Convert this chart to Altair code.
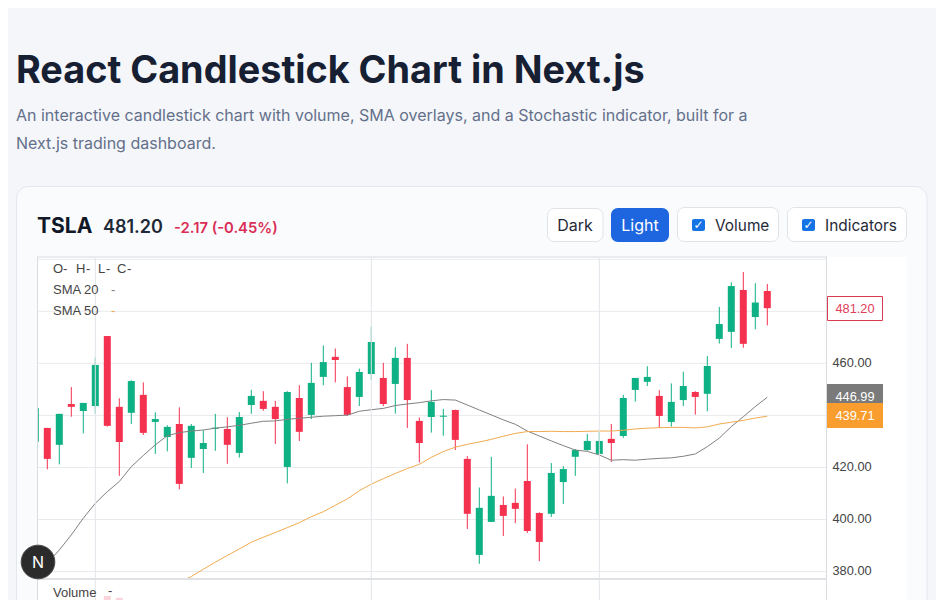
import altair as alt
import pandas as pd

opens = [429.9,435.2,428.7,444.4,441.7,443.6,470.5,443.3,441.0,447.9,437.5,431.7,436.7,423.7,427.1,434.9,434.8,425.6,444.0,445.6,443.3,420.2,446.7,440.2,454.8,462.5,450.9,447.1,455.9,454.4,452.1,462.1,437.9,439.4,439.5,442.1,423.3,386.4,399.1,405.6,406.4,414.8,402.5,402.2,414.4,424.1,426.7,425.2,431.0,432.1,449.8,452.9,447.5,437.5,445.9,449.0,448.3,469.4,472.1,488.2,477.8,487.8]
closes = [442.9,423.3,440.6,443.3,444.8,459.4,436.0,429.8,453.2,433.3,438.6,435.6,413.7,436.0,429.4,435.3,428.7,439.4,447.5,442.5,438.6,449.0,433.7,452.5,460.5,461.3,440.2,456.7,468.2,444.4,462.1,445.9,429.4,445.2,439.9,430.6,402.2,404.5,409.1,401.4,404.1,395.6,391.4,417.9,419.4,426.7,430.2,430.2,429.4,446.7,454.4,454.8,439.8,445.2,451.3,447.1,459.0,475.1,489.7,467.5,483.37,481.2]
highs = [442.9,435.2,440.6,450.9,444.8,462.3,470.5,446.6,453.5,452.7,441.2,436.2,443.1,436.7,434.3,440.6,439.3,441.3,449.8,449.3,445.6,449.3,451.6,460.2,466.9,465.7,455.0,458.0,474.1,460.2,466.2,467.5,439.2,449.7,442.5,442.2,424.4,412.3,424.1,408.9,411.9,428.9,402.8,421.7,420.5,427.1,432.9,433.7,436.7,447.9,454.4,458.9,449.7,452.3,456.8,449.3,462.8,481.7,491.1,495.1,490.8,490.5]
lows = [429.9,419.3,421.2,439.5,433.1,440.6,435.7,416.8,436.7,432.5,425.2,426.2,411.6,419.8,417.9,426.4,421.4,423.8,440.6,441.8,429.0,413.9,430.2,438.6,451.6,452.7,439.8,443.6,453.6,443.6,440.7,435.2,421.9,433.4,432.2,426.7,396.4,383.0,399.1,393.7,398.6,394.9,384.0,401.0,406.0,416.8,426.4,425.2,422.1,431.4,445.3,451.3,435.2,435.7,443.6,440.3,441.6,467.6,465.9,466.0,473.1,474.6]
sma20 = [383.2,388.3,394.1,400.5,406.25,410.7,414.6,420.3,424.6,428.7,432.2,433.4,434.0,434.4,435.1,435.6,436.2,437.0,437.75,437.9,438.5,438.9,439.3,439.7,439.9,440.1,441.6,442.2,442.7,443.8,444.4,444.9,445.6,446.1,445.9,444.0,442.1,440.2,438.3,436.6,434.0,432.1,430.2,428.4,426.7,426.2,424.8,422.8,423.0,422.8,423.2,423.5,423.7,424.3,425.2,428.0,431.3,435.7,439.5,443.4,446.99]
sma20_start = 1
sma50 = [375.9,378.1,380.9,383.6,386.2,388.7,391.3,393.2,395.0,396.9,398.8,401.1,403.0,405.5,407.9,411.1,413.6,415.7,417.7,419.6,421.2,423.9,426.1,427.8,428.9,429.8,430.8,432.0,433.1,433.8,433.8,433.9,433.8,433.8,433.9,434.0,434.0,434.3,434.8,435.1,435.3,435.4,435.4,435.2,435.6,436.7,437.4,438.1,439.0,439.71]
sma50_start = 12
volume_index = [6, 7]
volume_values = [97, 94]
grid_prices = [380, 400, 420, 440, 460, 480, 500]
axis_prices = [380, 400, 420, 460]
vertical_index = [5, 28, 47]

FONT = "Inter"
CHART_FONT = "Liberation Sans"
OX, OY = 38, 258
W, H = 789, 342
RED, GREEN = "#f4314f", "#0db183"
one = pd.DataFrame({"a": [0]})


def txt(s, px, py, size, color, font=FONT, weight=400, align="left"):
    return alt.Chart(one).mark_text(text=s, font=font, fontSize=size, color=color, fontWeight=weight,
                                    align=align, baseline="alphabetic").encode(
        x=alt.value(px - OX), y=alt.value(py - OY))


def box(x0, y0, x1, y1, fill, stroke=None, r=0, sw=1):
    kw = dict(fill=fill, cornerRadius=r)
    if stroke:
        kw.update(stroke=stroke, strokeWidth=sw)
    return alt.Chart(one).mark_rect(**kw).encode(
        x=alt.value(x0 - OX), x2=alt.value(x1 - OX), y=alt.value(y0 - OY), y2=alt.value(y1 - OY))


xs = alt.Scale(domain=[0.225, 65.975], nice=False, zero=False, padding=0)
ys = alt.Scale(domain=[369.09, 500.48], nice=False, zero=False, padding=0)
X = alt.X("i:Q", scale=xs, axis=None)

df = pd.DataFrame({"i": range(len(opens)), "o": opens, "c": closes, "h": highs, "l": lows})
df["dir"] = ["up" if c >= o else "down" for o, c in zip(opens, closes)]
color = alt.Color("dir:N", scale=alt.Scale(domain=["up", "down"], range=[GREEN, RED]), legend=None)

wicks = alt.Chart(df).mark_rule(strokeWidth=1, clip=True).encode(
    x=X, y=alt.Y("l:Q", scale=ys, axis=None), y2="h:Q", color=color)
bodies = alt.Chart(df).mark_bar(width=7, clip=True).encode(
    x=X, y=alt.Y("o:Q", scale=ys, axis=None), y2="c:Q", color=color)

s20 = pd.DataFrame({"i": range(sma20_start, sma20_start + len(sma20)), "v": sma20})
s50 = pd.DataFrame({"i": range(sma50_start, sma50_start + len(sma50)), "v": sma50})
line20 = alt.Chart(s20).mark_line(color="#808080", strokeWidth=1, clip=True).encode(
    x=X, y=alt.Y("v:Q", scale=ys, axis=None))
line50 = alt.Chart(s50).mark_line(color="#f2ab50", strokeWidth=1, clip=True).encode(
    x=X, y=alt.Y("v:Q", scale=ys, axis=None))

grid = alt.Chart(pd.DataFrame({"p": grid_prices})).mark_rule(color="#e8eaed", strokeWidth=1).encode(
    y=alt.Y("p:Q", scale=ys, axis=None), x=alt.value(0), x2=alt.value(W))
vgrid = alt.Chart(pd.DataFrame({"i": vertical_index})).mark_rule(color="#e2e4e8", strokeWidth=1).encode(
    x=X, y=alt.value(0), y2=alt.value(H))

vol = alt.Chart(pd.DataFrame({"i": volume_index, "v": volume_values})).mark_bar(width=7, color="#fbd3db").encode(
    x=X, y=alt.Y("v:Q", scale=alt.Scale(domain=[0, 100], range=[400, 336], nice=False), axis=None))

axis_layer = alt.Chart(pd.DataFrame({"p": axis_prices})).mark_point(opacity=0).encode(
    y=alt.Y("p:Q", scale=ys, axis=alt.Axis(orient="right", values=axis_prices, format=".2f", grid=False,
                                           domain=False, ticks=False, labelPadding=5, labelFontSize=12.8,
                                           labelColor="#444444", labelFont=CHART_FONT, title=None, zindex=1,
                                           labelFlush=False, labelOverlap=False, labelOffset=-0.7)),
    x=alt.value(0))

layers = [
    box(16.5, 186.5, 927, 640, "#fafbfd", "#e3e7ee", 12),
    txt("React Candlestick Chart in Next.js", 16, 83, 37.8, "#172033", weight=700),
    txt("An interactive candlestick chart with volume, SMA overlays, and a Stochastic indicator, built for a", 16, 121, 16, "#64708a"),
    txt("Next.js trading dashboard.", 16, 149, 16, "#64708a"),
    txt("TSLA", 37, 233, 21, "#111827", weight=700),
    txt("481.20", 103, 233, 18, "#1f2937", weight=600),
    txt("-2.17 (-0.45%)", 174, 233, 14.8, "#d92d56", weight=600),
    box(547.5, 208.5, 603, 241.5, "#ffffff", "#dfe3e8", 7),
    txt("Dark", 575, 230.5, 16, "#1f2937", align="center"),
    box(611, 208, 669, 242, "#1d66e0", None, 7),
    txt("Light", 640, 230.5, 16, "#ffffff", align="center"),
    box(677.5, 207.5, 778.5, 241.5, "#ffffff", "#dfe3e8", 7),
    box(692, 219, 705, 231, "#1573e6", None, 2),
    txt("✓", 698.5, 229, 12, "#ffffff", font="DejaVu Sans", weight=700, align="center"),
    txt("Volume", 715, 230.5, 15.4, "#1f2937"),
    box(787.5, 207.5, 906.5, 241.5, "#ffffff", "#dfe3e8", 7),
    box(802, 219, 815, 231, "#1573e6", None, 2),
    txt("✓", 808.5, 229, 12, "#ffffff", font="DejaVu Sans", weight=700, align="center"),
    txt("Indicators", 825, 230.5, 15.4, "#1f2937"),
    box(38, 257, 907, 600, "#ffffff"),
    grid,
    wicks,
    bodies,
    line20,
    line50,
    box(38, 578, 827, 600, "#ffffff"),
    vol,
    vgrid,
    box(37, 578, 827, 580, "#dfe1e4"),
    box(37, 256.5, 827, 257.5, "#d9dce1"),
    box(37, 257, 38, 600, "#d9dce1"),
    box(826, 257, 827, 600, "#d9dce1"),
    txt("O", 53, 273, 13, "#444444", CHART_FONT),
    txt("-", 63, 273, 13, "#444444", CHART_FONT),
    txt("H", 76, 273, 13, "#444444", CHART_FONT),
    txt("-", 86, 273, 13, "#444444", CHART_FONT),
    txt("L", 98, 273, 13, "#444444", CHART_FONT),
    txt("-", 106, 273, 13, "#444444", CHART_FONT),
    txt("C", 117, 273, 13, "#444444", CHART_FONT),
    txt("-", 127, 273, 13, "#444444", CHART_FONT),
    txt("SMA 20", 53, 293.5, 13, "#444444", CHART_FONT),
    txt("-", 111, 293.5, 13, "#808080", CHART_FONT),
    txt("SMA 50", 53, 314.5, 13, "#444444", CHART_FONT),
    txt("-", 111, 314.5, 13, "#f2ab50", CHART_FONT),
    txt("Volume", 53, 597, 13, "#444444", CHART_FONT),
    txt("-", 108, 595, 13, "#444444", CHART_FONT),
    box(827.5, 296.5, 882.5, 320.5, "#ffffff", "#dc3a52"),
    txt("481.20", 855, 313, 12.8, "#e0405a", CHART_FONT, align="center"),
    box(827, 384, 883, 404, "#7a7a7a"),
    txt("446.99", 855, 401, 12.8, "#ffffff", CHART_FONT, align="center"),
    box(827, 403, 883, 428, "#f99d2e"),
    txt("439.71", 855, 420, 12.8, "#ffffff", CHART_FONT, align="center"),
    alt.Chart(one).mark_circle(size=1134, color="#2b2b2b", opacity=1, stroke="#4a4a4a", strokeWidth=1).encode(
        x=alt.value(38 - OX), y=alt.value(562 - OY)),
    txt("N", 38, 568, 16, "#ffffff", weight=400, align="center"),
    axis_layer,
]

chart = alt.layer(*layers).resolve_scale(y="independent", color="independent").properties(
    width=W, height=H, background="#f4f6fa",
    autosize=alt.AutoSizeParams(type="none"),
    padding={"left": 30, "top": 250, "right": 109, "bottom": 0},
).configure_view(strokeWidth=0)

chart.save("out.html", embed_options={"renderer": "svg", "actions": False})
